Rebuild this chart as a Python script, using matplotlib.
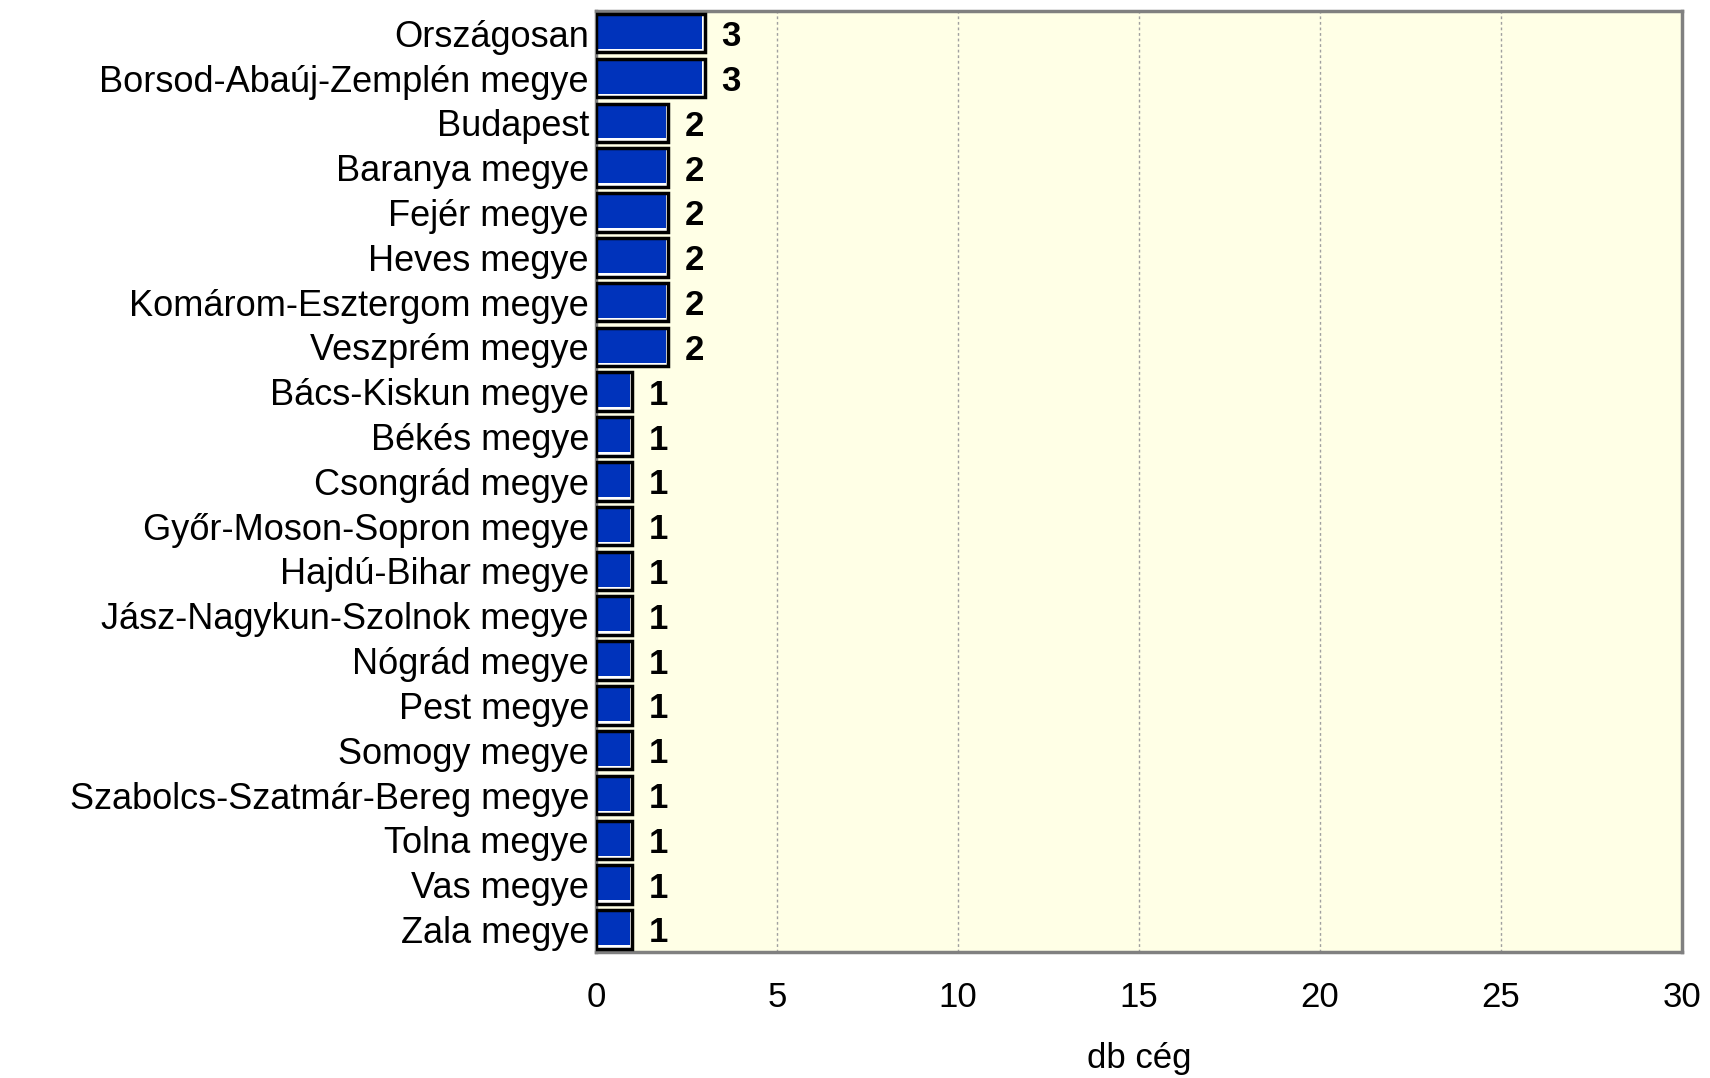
import matplotlib.pyplot as plt

# Cégek száma megyénként
regions = ['Országosan', 'Borsod-Abaúj-Zemplén megye', 'Budapest', 'Baranya megye',
           'Fejér megye', 'Heves megye', 'Komárom-Esztergom megye', 'Veszprém megye',
           'Bács-Kiskun megye', 'Békés megye', 'Csongrád megye', 'Győr-Moson-Sopron megye',
           'Hajdú-Bihar megye', 'Jász-Nagykun-Szolnok megye', 'Nógrád megye', 'Pest megye',
           'Somogy megye', 'Szabolcs-Szatmár-Bereg megye', 'Tolna megye', 'Vas megye',
           'Zala megye']
counts = [3, 3, 2, 2, 2, 2, 2, 2, 1, 1, 1, 1, 1, 1, 1, 1, 1, 1, 1, 1, 1]
x_ticks = [0, 5, 10, 15, 20, 25, 30]

plt.rcParams['font.family'] = ['Liberation Sans', 'DejaVu Sans']

fig = plt.figure(figsize=(17.1, 10.78), dpi=100)
ax = fig.add_axes([0.3485, 0.117, 0.635, 0.873])
ax.set_facecolor('#FFFFE6')

pos = list(range(len(regions)))[::-1]
h = 0.86
# white base (shows as highlight on right and bottom), blue body shifted to top-left, black outline
ax.barh(pos, counts, height=h, color='white', linewidth=0, zorder=3)
ax.barh([p + 0.04 for p in pos], [c - 0.06 for c in counts], height=h - 0.08,
        color='#0033BB', linewidth=0, zorder=4)
ax.barh(pos, counts, height=h, color='none', edgecolor='black', linewidth=2.5, zorder=5)

for p, c in zip(pos, counts):
    ax.text(c + 0.45, p, str(c), va='center_baseline', ha='left', fontsize=25,
            fontweight='bold', zorder=6)

ax.set_xlim(0, 30)
ax.set_ylim(-0.5, len(regions) - 0.5)
ax.set_xticks(x_ticks)
ax.set_xticklabels([str(t) for t in x_ticks], fontsize=25)
ax.set_yticks(pos)
ax.set_yticklabels(regions, fontsize=26)
ax.tick_params(axis='both', length=0)
ax.tick_params(axis='y', pad=5)
ax.tick_params(axis='x', pad=21)
ax.xaxis.grid(True, color='#A0A0A0', linestyle=(0, (2, 2)), linewidth=1, zorder=1)
for s in ax.spines.values():
    s.set_color('#808080')
    s.set_linewidth(2.5)
ax.set_xlabel('db cég', fontsize=25, labelpad=20)

plt.savefig('out.png', dpi=100)
